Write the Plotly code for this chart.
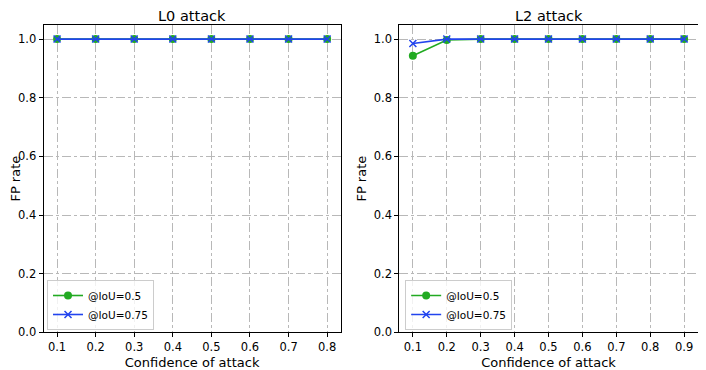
import plotly.graph_objects as go
from plotly.subplots import make_subplots

GREEN = "#22aa22"
BLUE = "#2244ee"

# L0 attack
l0_conf = [0.1, 0.2, 0.3, 0.4, 0.5, 0.6, 0.7, 0.8]
l0_iou50 = [1.0, 1.0, 1.0, 1.0, 1.0, 1.0, 1.0, 1.0]
l0_iou75 = [1.0, 1.0, 1.0, 1.0, 1.0, 1.0, 1.0, 1.0]

# L2 attack
l2_conf = [0.1, 0.2, 0.3, 0.4, 0.5, 0.6, 0.7, 0.8, 0.9]
l2_iou50 = [0.943, 0.997, 1.0, 1.0, 1.0, 1.0, 1.0, 1.0, 1.0]
l2_iou75 = [0.985, 1.0, 1.0, 1.0, 1.0, 1.0, 1.0, 1.0, 1.0]

y_ticks = [0.0, 0.2, 0.4, 0.6, 0.8, 1.0]

# the page body adds an 8px margin, so the figure is 8px smaller each way
W, H = 698, 362

fig = make_subplots(rows=1, cols=2)


def add_pair(x, y50, y75, col, legend):
    fig.add_scatter(
        x=x, y=y50, name="@IoU=0.5", mode="lines+markers",
        line=dict(color=GREEN, width=1.6),
        marker=dict(color=GREEN, size=8, symbol="circle"),
        legend=legend, row=1, col=col,
    )
    fig.add_scatter(
        x=x, y=y75, name="@IoU=0.75", mode="lines+markers",
        line=dict(color=BLUE, width=1.6),
        marker=dict(color=BLUE, size=7, symbol="x-thin", line=dict(color=BLUE, width=1.5)),
        legend=legend, row=1, col=col,
    )


add_pair(l0_conf, l0_iou50, l0_iou75, 1, "legend")
add_pair(l2_conf, l2_iou50, l2_iou75, 2, "legend2")

axis_common = dict(
    showline=True, linecolor="black", linewidth=1, mirror=True,
    ticks="outside", ticklen=4, tickcolor="black",
    showgrid=True, gridcolor="#b8b8b8", griddash="dashdot", gridwidth=1,
    zeroline=False, tickfont=dict(size=11.5, color="black"), automargin=False,
)

fig.update_xaxes(**axis_common)
fig.update_yaxes(**axis_common)

fig.update_xaxes(row=1, col=1, domain=[0.0509, 0.4766], range=[0.065, 0.835],
                 tickvals=l0_conf, tickformat=".1f",
                 title=dict(text="Confidence of attack", font=dict(size=13), standoff=4))
fig.update_xaxes(row=1, col=2, domain=[0.5606, 0.9881], range=[0.06, 0.94],
                 tickvals=l2_conf, tickformat=".1f",
                 title=dict(text="Confidence of attack", font=dict(size=13), standoff=4))
for c in (1, 2):
    fig.update_yaxes(row=1, col=c, domain=[0.1041, 0.953], range=[0, 1.048],
                     tickvals=y_ticks, tickformat=".1f",
                     title=dict(text="FP rate", font=dict(size=13), standoff=4))

legend_style = dict(
    bgcolor="rgba(255,255,255,0.8)", bordercolor="#cccccc", borderwidth=1,
    font=dict(size=10.5, color="black"), xanchor="left", yanchor="bottom",
    tracegroupgap=0, itemwidth=30,
)

fig.update_layout(
    width=W, height=H,
    margin=dict(l=0, r=0, t=0, b=0),
    plot_bgcolor="white", paper_bgcolor="white",
    font=dict(family="DejaVu Sans", color="black"),
    showlegend=True,
    legend=dict(x=0.0559, y=0.1105, **legend_style),
    legend2=dict(x=0.569, y=0.1105, **legend_style),
    annotations=[
        dict(text="L0 attack", x=0.2638, y=0.979, xref="paper", yref="paper",
             xanchor="center", yanchor="middle", showarrow=False, font=dict(size=14.5)),
        dict(text="L2 attack", x=0.7744, y=0.979, xref="paper", yref="paper",
             xanchor="center", yanchor="middle", showarrow=False, font=dict(size=14.5)),
    ],
)

fig.write_html("out.html")
